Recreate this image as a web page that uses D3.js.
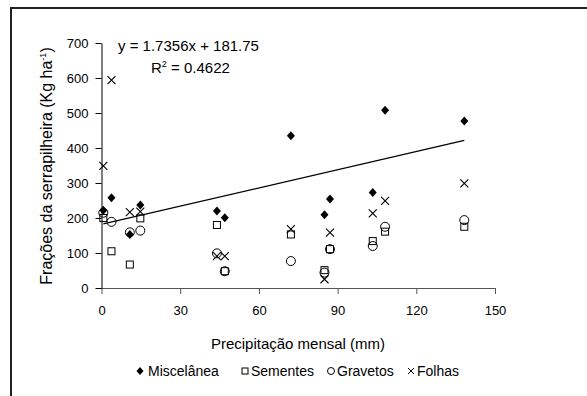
<!DOCTYPE html>
<html>
<head>
<meta charset="utf-8">
<script src="https://cdn.jsdelivr.net/npm/d3@7"></script>
<style>
  body { margin: 0; background: #fff; }
  svg { display: block; font-family: "Liberation Sans", Arial, sans-serif; }
</style>
</head>
<body>
<svg width="587" height="396"></svg>
<script>
const precip = [0.7, 3.8, 10.8, 14.8, 44, 47, 72.2, 85, 87.1, 103.4, 108.1, 138.3];
const miscelanea = [222, 258, 153, 237, 220, 201, 435, 209, 254, 273, 508, 477];
const sementes = [200, 105, 67, 199, 180, 48, 153, 51, 111, 134, 161, 175];
const gravetos = [215, 189, 159, 164, 99, 48, 77, 44, 111, 120, 175, 194];
const folhas = [349, 594, 217, 218, 91, 91, 168, 25, 158, 213, 249, 299];
const xTicks = [0, 30, 60, 90, 120, 150];
const yTicks = [0, 100, 200, 300, 400, 500, 600, 700];
const slope = 1.7356, intercept = 181.75;

const svg = d3.select("svg");

// outer frame (runs off the right and bottom edges)
svg.append("rect")
  .attr("x", 11).attr("y", 8)
  .attr("width", 620).attr("height", 420)
  .attr("fill", "none")
  .attr("stroke", "#222")
  .attr("stroke-width", 2);

const x = d3.scaleLinear().domain([0, 150]).range([101.5, 495]);
const y = d3.scaleLinear().domain([0, 700]).range([288, 43]);

const xAxis = svg.append("g")
  .attr("transform", "translate(0,288)")
  .call(d3.axisBottom(x).tickValues(xTicks).tickSize(6).tickPadding(12).tickSizeOuter(0));
xAxis.select(".domain").attr("d", `M97,0.5H${x(150)}`).attr("stroke", "#555");
xAxis.selectAll(".tick line").attr("stroke", "#555");

const yAxis = svg.append("g")
  .attr("transform", "translate(101.5,0)")
  .call(d3.axisLeft(y).tickValues(yTicks).tickSize(6).tickPadding(7).tickSizeOuter(0));
yAxis.select(".domain").attr("stroke", "#000");

svg.selectAll(".tick text")
  .attr("font-size", 13)
  .attr("fill", "#000")
  .attr("font-family", "Liberation Sans, Arial, sans-serif");

// axis titles
svg.append("text")
  .attr("x", 298).attr("y", 349)
  .attr("text-anchor", "middle")
  .attr("font-size", 15)
  .text("Precipitação mensal (mm)");

const yl = svg.append("text")
  .attr("transform", "translate(52,166) rotate(-90)")
  .attr("text-anchor", "middle")
  .attr("font-size", 16)
  .text("Frações da serrapilheira (Kg ha");
yl.append("tspan").attr("dy", -6).attr("font-size", 9).text("-1");
yl.append("tspan").attr("dy", 6).text(")");

// trend line
const x0 = d3.min(precip), x1 = d3.max(precip);
svg.append("line")
  .attr("x1", x(x0)).attr("y1", y(slope * x0 + intercept))
  .attr("x2", x(x1)).attr("y2", y(slope * x1 + intercept))
  .attr("stroke", "#000").attr("stroke-width", 1.3);

// equation
svg.append("text")
  .attr("x", 118).attr("y", 51)
  .attr("font-size", 15)
  .text("y = 1.7356x + 181.75");
const r2 = svg.append("text")
  .attr("x", 151).attr("y", 73)
  .attr("font-size", 15)
  .text("R");
r2.append("tspan").attr("dy", -6).attr("font-size", 9).text("2");
r2.append("tspan").attr("dy", 6).text(" = 0.4622");

// markers
const shapes = {
  diamond: (g, cx, cy) => g.append("path")
    .attr("d", `M${cx},${cy - 4.5}L${cx + 4},${cy}L${cx},${cy + 4.5}L${cx - 4},${cy}Z`)
    .attr("fill", "#000"),
  square: (g, cx, cy) => g.append("rect")
    .attr("x", cx - 3.5).attr("y", cy - 3.5).attr("width", 7).attr("height", 7)
    .attr("fill", "none").attr("stroke", "#000").attr("stroke-width", 1),
  circle: (g, cx, cy) => g.append("circle")
    .attr("cx", cx).attr("cy", cy).attr("r", 4.5)
    .attr("fill", "none").attr("stroke", "#000").attr("stroke-width", 1),
  cross: (g, cx, cy) => g.append("path")
    .attr("d", `M${cx - 4},${cy - 4}L${cx + 4},${cy + 4}M${cx + 4},${cy - 4}L${cx - 4},${cy + 4}`)
    .attr("stroke", "#000").attr("stroke-width", 1.1)
};

const series = [
  { name: "Miscelânea", values: miscelanea, shape: "diamond" },
  { name: "Sementes", values: sementes, shape: "square" },
  { name: "Gravetos", values: gravetos, shape: "circle" },
  { name: "Folhas", values: folhas, shape: "cross" }
];

const pts = svg.append("g");
series.forEach(s => {
  s.values.forEach((v, i) => shapes[s.shape](pts, x(precip[i]), y(v)));
});

// legend
const legendX = [140, 245, 331, 411];
const ly = 371;
const leg = svg.append("g");
series.forEach((s, i) => {
  const lx = legendX[i];
  if (s.shape === "diamond") {
    leg.append("path").attr("d", `M${lx},${ly - 4}L${lx + 3.5},${ly}L${lx},${ly + 4}L${lx - 3.5},${ly}Z`).attr("fill", "#000");
  } else if (s.shape === "square") {
    leg.append("rect").attr("x", lx - 3).attr("y", ly - 3).attr("width", 6).attr("height", 6)
      .attr("fill", "none").attr("stroke", "#000");
  } else if (s.shape === "circle") {
    leg.append("circle").attr("cx", lx).attr("cy", ly).attr("r", 3.5)
      .attr("fill", "none").attr("stroke", "#000");
  } else {
    leg.append("path").attr("d", `M${lx - 3},${ly - 3}L${lx + 3},${ly + 3}M${lx + 3},${ly - 3}L${lx - 3},${ly + 3}`)
      .attr("stroke", "#000");
  }
  leg.append("text").attr("x", lx + (i === 0 ? 8 : 6)).attr("y", ly + 5)
    .attr("font-size", 14).text(s.name);
});
</script>
</body>
</html>
